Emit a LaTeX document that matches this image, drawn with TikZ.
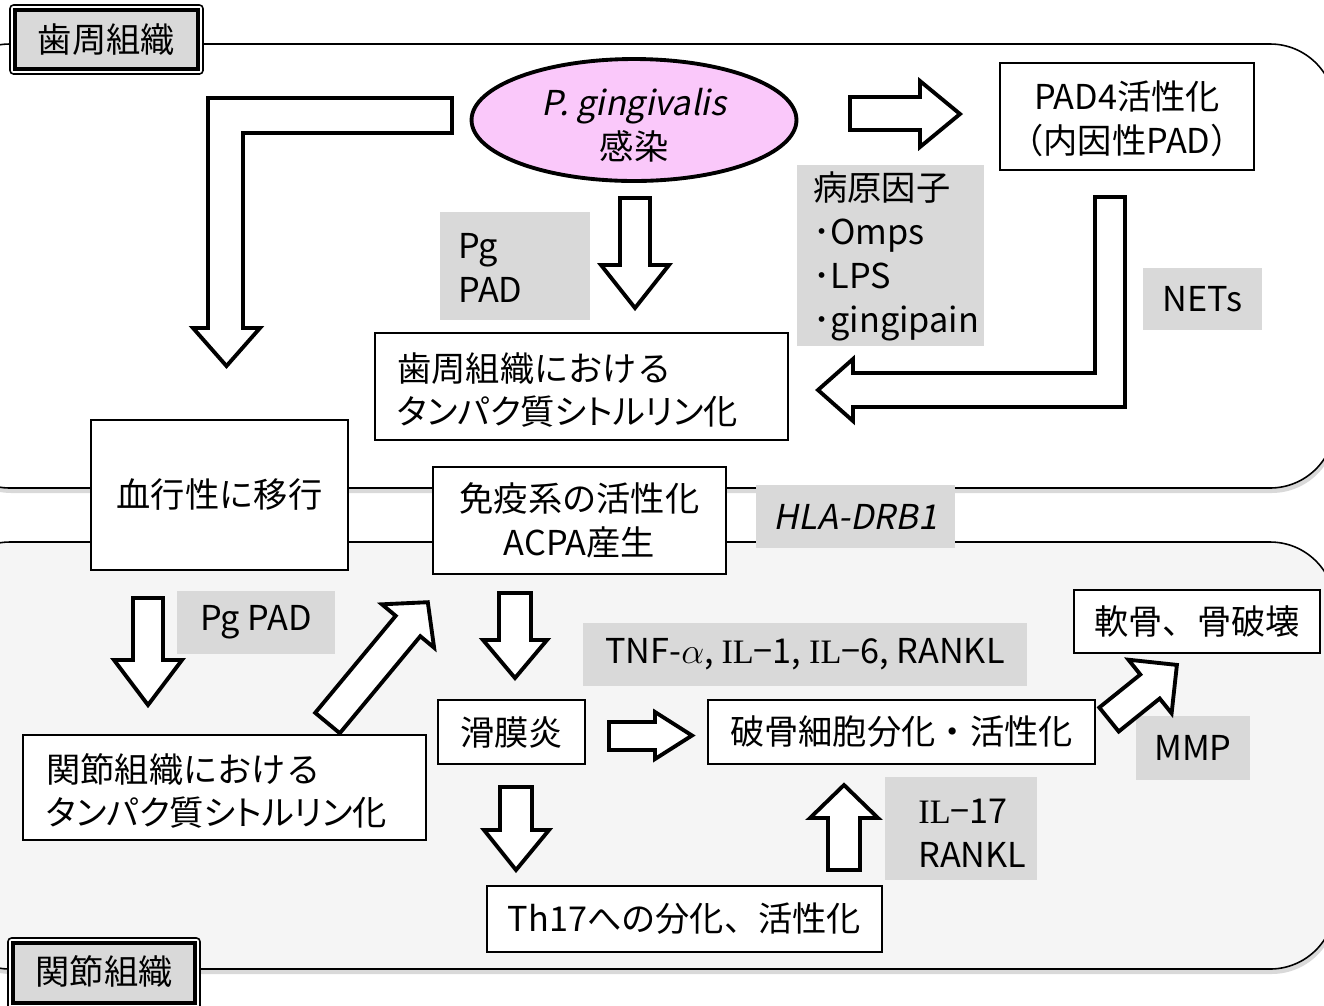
\documentclass[tikz,border=0pt]{standalone}
\usepackage{fontspec}
\setmainfont{Noto Sans CJK JP}
\newfontfamily\slfont{Noto Sans CJK JP}[FakeSlant=0.2]
\newfontfamily\pfont{Noto Sans CJK JP}[RawFeature=+palt]
\newfontfamily\serfont{Liberation Serif}
\usetikzlibrary{shapes.geometric,fit,shadows}
\definecolor{lgray}{HTML}{D9D9D9}
\definecolor{bgf}{HTML}{F5F5F5}
\definecolor{pinkf}{RGB}{250,200,250}
\newcommand\mainsz{\fontsize{19.5pt}{24pt}\selectfont}
\newcommand\slmain{\fontsize{19.5pt}{24pt}\slfont}
\tikzset{
  region/.style={draw=black, line width=0.9pt, rounded corners=1.3cm,
    drop shadow={opacity=0.3, shadow xshift=0.03cm, shadow yshift=-0.1cm}},
  box/.style={draw=black, line width=0.9pt, fill=white, inner sep=0pt},
  gbox/.style={fill=lgray, draw=none, inner sep=0pt},
  txt/.style={inner sep=0pt, font=\mainsz, align=left},
  ctext/.style={inner sep=0pt, font=\mainsz, align=center},
  barrow/.style={draw=black, line width=2.2pt, fill=white, line join=miter},
  labouter/.style={draw=black, line width=0.9pt, rounded corners=2pt, fill=white},
  labinner/.style={draw=black, line width=1.8pt, fill=lgray, inner sep=0pt},
}
\begin{document}
\begin{tikzpicture}[x=0.02cm,y=-0.02cm]
\useasboundingbox (0,0) rectangle (1324,1005);
% regions
\path[region, fill=white] (-55,44) rectangle (1335,488);
\path[region, fill=bgf] (-55,542) rectangle (1335,969);
% region labels
\draw[labouter] (10,5) rectangle (203,74);
\node[labinner, fit={(15,10)(198,69)}] (lab1) {};
\node[ctext] (tlab1) at (lab1.center) {歯周組織};
\draw[labouter] (8,938) rectangle (200,1012);
\node[labinner, fit={(13,943)(195,1003)}] (lab2) {};
\node[ctext] (tlab2) at (104,971) {関節組織};

% top region nodes
\node[ellipse, draw=black, line width=2.2pt, fill=pinkf, inner sep=0pt,
  minimum width=6.5cm, minimum height=2.44cm] (pg) at (634,120) {};
\node[ctext, font=\fontsize{19.5pt}{25pt}\selectfont] (tpgn) at (634,125) {{\slfont P. gingivalis}\\感染};
\node[box, fit={(1000,63)(1254,170)}] (pad4) {};
\node[ctext, font=\fontsize{19.5pt}{25pt}\selectfont] (tpad4) at (1127,119) {PAD4活性化\\（内因性PAD）};
\node[gbox, fit={(440,212)(590,320)}] (gpg) {};
\node[txt, anchor=west, font=\fontsize{19.5pt}{25pt}\selectfont] (tpg) at (458,268) {Pg\\PAD};
\node[gbox, fit={(797,165)(984,346)}] (gfac) {};
\node[txt, anchor=west, font=\fontsize{19.5pt}{25pt}\selectfont] (tfac) at (813,256) {病原因子\\･Omps\\･LPS\\･gingipain};
\node[box, fit={(375,333)(788,440)}] (perio) {};
\node[txt, anchor=west] (tperio) at (397,390) {歯周組織における\\{\pfont タンパク質シトルリン化}};
\node[gbox, fit={(1143,268)(1262,330)}] (nets) {};
\node[ctext] (tnets) at (nets.center) {NETs};

% middle nodes
\node[box, fit={(91,420)(348,570)}] (blood) {};
\node[ctext] (tblood) at (blood.center) {血行性に移行};
\node[box, fit={(433,467)(726,574)}] (immune) {};
\node[ctext, font=\fontsize{19.5pt}{25pt}\selectfont] (timmune) at (immune.center) {免疫系の活性化\\ACPA産生};
\node[gbox, fit={(756,485)(955,548)}] (hla) {};
\node[ctext, font=\slmain] (thla) at (hla.center) {HLA-DRB1};

% bottom region nodes
\node[gbox, fit={(177,591)(335,654)}] (pgpad2) {};
\node[ctext] (tpgpad2) at (pgpad2.center) {Pg PAD};
\node[box, fit={(23,735)(426,840)}] (joint) {};
\node[txt, anchor=west] (tjoint) at (46,791) {関節組織における\\{\pfont タンパク質シトルリン化}};
\node[gbox, fit={(583,623)(1027,686)}] (tnf) {};
\node[ctext] (ttnf) at (tnf.center) {TNF-$\alpha$, {\serfont IL}−1, {\serfont IL}−6, RANKL};
\node[box, fit={(438,700)(585,764)}] (syn) {};
\node[ctext] (tsyn) at (syn.center) {滑膜炎};
\node[box, fit={(708,700)(1095,764)}] (osteo) {};
\node[ctext] (tosteo) at (osteo.center) {破骨細胞分化・活性化};
\node[box, fit={(1074,590)(1320,653)}] (bone) {};
\node[ctext] (tbone) at (bone.center) {軟骨、骨破壊};
\node[gbox, fit={(1136,716)(1250,780)}] (mmp) {};
\node[ctext] (tmmp) at (mmp.center) {MMP};
\node[box, fit={(487,886)(882,952)}] (th17) {};
\node[ctext] (tth17) at (th17.center) {Th17への分化、活性化};
\node[gbox, fit={(885,777)(1037,880)}] (gil) {};
\node[txt, anchor=west, font=\fontsize{19.5pt}{25pt}\selectfont] (til) at (918,833) {{\serfont IL}−17\\RANKL};

% block arrows
\draw[barrow] (452,98) -- (208,98) -- (208,328) -- (193,328) -- (226.5,366) -- (260,328) -- (243,328) -- (243,133) -- (452,133) -- cycle;
\draw[barrow] (850,97) -- (920,97) -- (920,81) -- (960,114) -- (920,147) -- (920,130) -- (850,130) -- cycle;
\draw[barrow] (620,198) -- (650,198) -- (650,265) -- (669,265) -- (635,308) -- (601,265) -- (620,265) -- cycle;
\draw[barrow] (1095,197) -- (1125,197) -- (1125,407) -- (853,407) -- (853,421) -- (818,390) -- (853,359) -- (853,373) -- (1095,373) -- cycle;
\draw[barrow] (133,598) -- (163,598) -- (163,660) -- (182,660) -- (148,705) -- (114,660) -- (133,660) -- cycle;
\draw[barrow] (315.2,712.8) -- (395.7,615.8) -- (381.9,604.3) -- (427.8,602.2) -- (434.1,647.7) -- (420.3,636.2) -- (339.8,733.2) -- cycle;
\draw[barrow] (499,593) -- (531,593) -- (531,640) -- (547,640) -- (515,678) -- (483,640) -- (499,640) -- cycle;
\draw[barrow] (609,722) -- (655,722) -- (655,712) -- (692,735.5) -- (655,759) -- (655,750) -- (609,750) -- cycle;
\draw[barrow] (500,787) -- (532,787) -- (532,830) -- (549,830) -- (516,870) -- (484,830) -- (500,830) -- cycle;
\draw[barrow] (828,870) -- (860,870) -- (860,818) -- (878,818) -- (844,785) -- (810,818) -- (828,818) -- cycle;
\draw[barrow] (1099.3,707.5) -- (1140.3,674.5) -- (1128.4,659.7) -- (1176.9,664.9) -- (1171.6,713.3) -- (1159.7,698.5) -- (1118.7,731.5) -- cycle;
\end{tikzpicture}
\end{document}
